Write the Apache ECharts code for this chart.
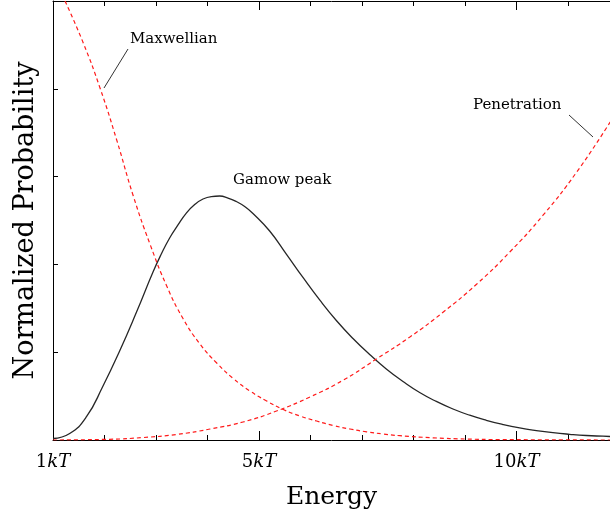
<!DOCTYPE html>
<html>
<head>
<meta charset="utf-8">
<script src="https://cdn.jsdelivr.net/npm/echarts@6/dist/echarts.min.js"></script>
<style>html,body{margin:0;padding:0;background:#fff}#c{width:610px;height:521px}</style>
</head>
<body>
<div id="c"></div>
<script>
// Energy in units of kT, values in normalized probability (0..5)
const gamow = [[1.000,0.017],[1.324,0.074],[1.647,0.262],[1.971,0.615],[2.294,1.014],[2.618,1.452],[2.942,1.913],[3.103,2.118],[3.265,2.301],[3.427,2.449],[3.589,2.585],[3.751,2.682],[3.913,2.745],[4.074,2.773],[4.236,2.779],[4.398,2.756],[4.560,2.716],[4.722,2.659],[4.883,2.580],[5.207,2.380],[5.531,2.118],[5.854,1.851],[6.178,1.595],[6.502,1.361],[6.825,1.156],[7.149,0.974],[7.472,0.809],[7.796,0.667],[8.120,0.541],[8.443,0.439],[8.767,0.353],[9.091,0.282],[9.414,0.224],[9.738,0.176],[10.061,0.137],[10.385,0.107],[10.709,0.083],[11.032,0.065],[11.356,0.051],[11.680,0.043],[11.816,0.040]];
const maxwellian = [[1.233,5.0],[1.588,4.522],[1.913,4.009],[2.237,3.417],[2.559,2.779],[2.883,2.232],[3.208,1.754],[3.530,1.378],[3.854,1.093],[4.179,0.877],[4.501,0.700],[4.825,0.558],[5.150,0.444],[5.472,0.347],[5.796,0.273],[6.120,0.216],[6.443,0.165],[6.767,0.125],[7.091,0.093],[7.414,0.068],[7.738,0.049],[8.384,0.025],[9.033,0.011],[9.680,0.005],[11.816,0.0]];
const penetration = [[1.0,0.0],[2.1,0.008],[2.75,0.028],[3.4,0.063],[4.05,0.125],[4.69,0.205],[5.34,0.330],[5.99,0.490],[6.64,0.683],[7.28,0.923],[7.93,1.173],[8.58,1.458],[9.23,1.777],[9.87,2.141],[10.52,2.563],[11.17,3.052],[11.82,3.622]];
const minorTicks = [1,2,3,4,5,6,7,8,9,10,11];
const majorTicks = [5,10];
const tickLabels = [1,5,10];

const SERIF = '"DejaVu Serif", serif';
const chart = echarts.init(document.getElementById('c'), null, {renderer:'canvas'});
const xMin = 1, xMax = 11.816;
function xAxisDef(pos, ticks, len, showLine, showLabels) {
  return {
    type:'value', position:pos, min:xMin, max:xMax,
    axisLine:{show:showLine, onZero:false, lineStyle:{color:'#000', width:1}},
    splitLine:{show:false},
    axisTick:{show:true, inside:true, length:len, customValues:ticks, lineStyle:{color:'#000', width:1}},
    axisLabel:{show:showLabels, customValues:tickLabels, margin:13,
      formatter:function(v){return v + '{i|kT}';},
      fontFamily:SERIF, fontSize:18, color:'#000',
      rich:{i:{fontFamily:SERIF, fontSize:18, fontStyle:'italic', color:'#000'}}}
  };
}
const xAxes = [
  Object.assign(xAxisDef('bottom', minorTicks, 5, true, true), {name:'Energy', nameLocation:'middle', nameGap:45, nameTextStyle:{fontFamily:SERIF, fontSize:25, color:'#000'}}),
  xAxisDef('bottom', majorTicks, 9, false, false),
  xAxisDef('top', minorTicks, 5, true, false),
  xAxisDef('top', majorTicks, 9, false, false)
];
chart.setOption({
  animation:false,
  backgroundColor:'#fff',
  grid:{left:53, right:0, top:1, bottom:81, containLabel:false},
  xAxis:xAxes,
  yAxis:{type:'value', min:0, max:5, interval:1,
    name:'Normalized Probability', nameLocation:'middle', nameGap:14,
    nameTextStyle:{fontFamily:SERIF, fontSize:27, color:'#000'},
    axisLine:{show:true, lineStyle:{color:'#000', width:1}},
    axisTick:{show:true, inside:true, length:5, lineStyle:{color:'#000'}},
    axisLabel:{show:false}, splitLine:{show:false}},
  series:[
    {type:'line', name:'Gamow peak', data:gamow, smooth:0.5, symbol:'none', clip:true,
      lineStyle:{color:'#262626', width:1.3}},
    {type:'line', name:'Maxwellian', data:maxwellian, smooth:0.5, symbol:'none', clip:true,
      lineStyle:{color:'#ff1a1a', width:1.2, type:[4,3]}},
    {type:'line', name:'Penetration', data:penetration, smooth:0.5, symbol:'none', clip:true,
      lineStyle:{color:'#ff1a1a', width:1.2, type:[4,3]}}
  ],
  graphic:[
    {type:'text', left:130, top:32, style:{text:'Maxwellian', font:'15px '+SERIF, fill:'#000'}},
    {type:'line', shape:{x1:128, y1:49, x2:104, y2:88}, style:{stroke:'#333', lineWidth:1}},
    {type:'text', left:233, top:173, style:{text:'Gamow peak', font:'15px '+SERIF, fill:'#000'}},
    {type:'text', left:473, top:98, style:{text:'Penetration', font:'15px '+SERIF, fill:'#000'}},
    {type:'line', shape:{x1:569, y1:115, x2:593, y2:137}, style:{stroke:'#333', lineWidth:1}}
  ]
});
</script>
</body>
</html>
